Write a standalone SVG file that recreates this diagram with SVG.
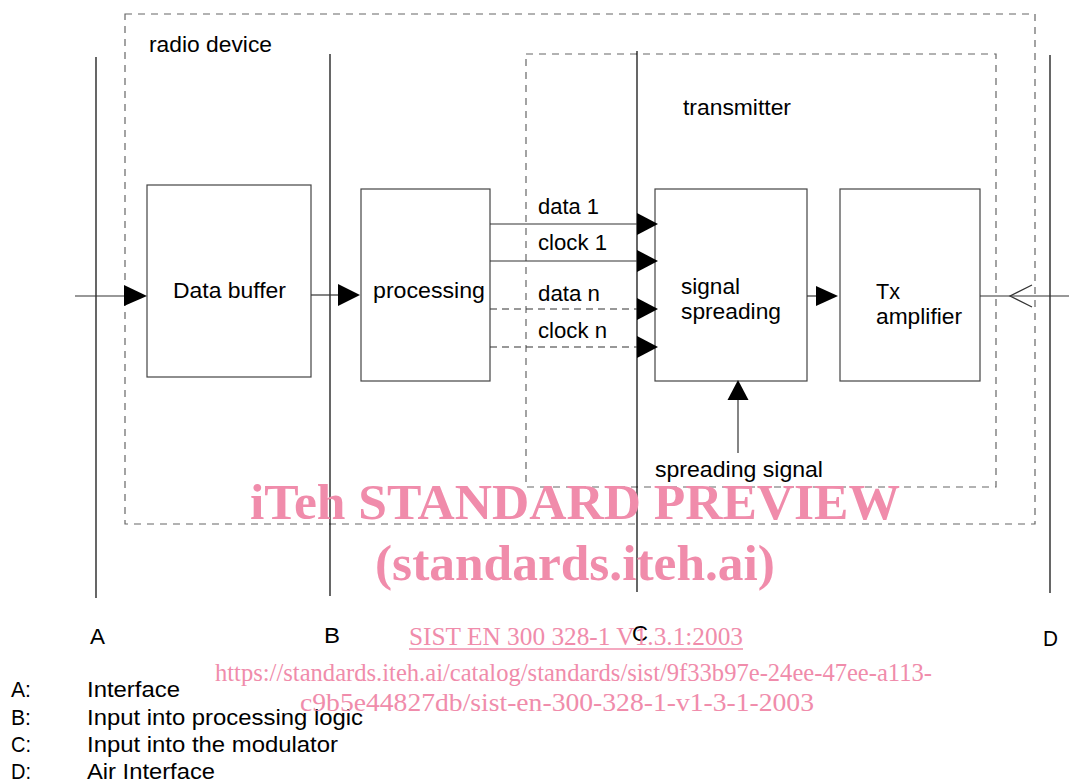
<svg xmlns="http://www.w3.org/2000/svg" width="1069" height="781" viewBox="0 0 1069 781">
<style>
.lbl{font-family:"Liberation Sans",Arial,sans-serif;font-size:22px;fill:#000}
.box{fill:#fff;stroke:#444;stroke-width:1.2}
.ref{stroke:#000;stroke-width:1.2;fill:none}
.dash{fill:none;stroke:#666;stroke-width:1.2;stroke-dasharray:7,6}
.ln{stroke:#333;stroke-width:1.2;fill:none}
.lnd{stroke:#333;stroke-width:1.2;fill:none;stroke-dasharray:7,5}
.head{fill:#000}
.wm{font-family:"Liberation Serif","Times New Roman",serif;fill:#f08cab}
.wmb{font-weight:bold;font-size:51px}
.wms{font-size:25px}
</style>
<rect width="1069" height="781" fill="#fff"/>
<g id="radio-device">
<rect class="dash" x="125" y="14" width="910" height="510"/>
<text class="lbl" x="149" y="52" textLength="123" lengthAdjust="spacingAndGlyphs">radio device</text>
</g>
<g id="transmitter">
<rect class="dash" x="526" y="54" width="470" height="433"/>
<text class="lbl" x="683" y="115" textLength="108" lengthAdjust="spacingAndGlyphs">transmitter</text>
</g>
<g id="ref-lines">
<line class="ref" x1="96" y1="57" x2="96" y2="598"/>
<line class="ref" x1="330" y1="54" x2="330" y2="596"/>
<line class="ref" x1="637" y1="51" x2="637" y2="592"/>
<line class="ref" x1="1050" y1="55" x2="1050" y2="593"/>
<text class="lbl" x="90" y="644" textLength="15" lengthAdjust="spacingAndGlyphs">A</text>
<text class="lbl" x="324" y="643" textLength="16" lengthAdjust="spacingAndGlyphs">B</text>
<text class="lbl" x="632" y="641" textLength="16" lengthAdjust="spacingAndGlyphs">C</text>
<text class="lbl" x="1043" y="646" textLength="15" lengthAdjust="spacingAndGlyphs">D</text>
</g>
<g id="data-buffer">
<rect class="box" x="147" y="185" width="164" height="192"/>
<text class="lbl" x="173" y="298" textLength="113" lengthAdjust="spacingAndGlyphs">Data buffer</text>
</g>
<g id="processing">
<rect class="box" x="361" y="189" width="129" height="192"/>
<text class="lbl" x="373" y="298" textLength="112" lengthAdjust="spacingAndGlyphs">processing</text>
</g>
<g id="signal-spreading">
<rect class="box" x="655" y="189" width="152" height="192"/>
<text class="lbl" x="681" y="294" textLength="59" lengthAdjust="spacingAndGlyphs">signal</text>
<text class="lbl" x="681" y="319" textLength="100" lengthAdjust="spacingAndGlyphs">spreading</text>
</g>
<g id="tx-amplifier">
<rect class="box" x="840" y="189" width="140" height="192"/>
<text class="lbl" x="876" y="299" textLength="24" lengthAdjust="spacingAndGlyphs">Tx</text>
<text class="lbl" x="876" y="324" textLength="86" lengthAdjust="spacingAndGlyphs">amplifier</text>
</g>
<g id="connectors">
<line class="ln" x1="75" y1="296" x2="126" y2="296"/>
<polygon class="head" points="124,285 147,296 124,306"/>
<line class="ln" x1="311" y1="295" x2="339" y2="295"/>
<polygon class="head" points="338,284 360,295 338,306"/>
<line class="ln" x1="490" y1="224" x2="638" y2="224"/>
<polygon class="head" points="637,213 658,224 637,235"/>
<line class="ln" x1="490" y1="261" x2="638" y2="261"/>
<polygon class="head" points="637,250 658,261 637,272"/>
<line class="lnd" x1="490" y1="309" x2="638" y2="309"/>
<polygon class="head" points="637,298 658,309 637,320"/>
<line class="lnd" x1="490" y1="347" x2="638" y2="347"/>
<polygon class="head" points="637,336 658,347 637,358"/>
<line class="ln" x1="807" y1="296" x2="817" y2="296"/>
<polygon class="head" points="816,286 838,296 816,306"/>
<line class="ln" x1="980" y1="296" x2="1069" y2="296"/>
<polyline class="ln" points="1032,285 1010,296 1032,307"/>
<line class="ln" x1="738" y1="453" x2="738" y2="399"/>
<polygon class="head" points="727.5,400 738,380 748.5,400"/>
<text class="lbl" x="538" y="214" textLength="61" lengthAdjust="spacingAndGlyphs">data 1</text>
<text class="lbl" x="538" y="250" textLength="69" lengthAdjust="spacingAndGlyphs">clock 1</text>
<text class="lbl" x="538" y="301" textLength="62" lengthAdjust="spacingAndGlyphs">data n</text>
<text class="lbl" x="538" y="338" textLength="69" lengthAdjust="spacingAndGlyphs">clock n</text>
<text class="lbl" x="655" y="477" textLength="168" lengthAdjust="spacingAndGlyphs">spreading signal</text>
</g>
<g id="legend">
<text class="lbl" x="11" y="697" textLength="20" lengthAdjust="spacingAndGlyphs">A:</text>
<text class="lbl" x="87" y="697" textLength="93" lengthAdjust="spacingAndGlyphs">Interface</text>
<text class="lbl" x="11" y="725" textLength="20" lengthAdjust="spacingAndGlyphs">B:</text>
<text class="lbl" x="87" y="725" textLength="276" lengthAdjust="spacingAndGlyphs">Input into processing logic</text>
<text class="lbl" x="11" y="752" textLength="20" lengthAdjust="spacingAndGlyphs">C:</text>
<text class="lbl" x="87" y="752" textLength="251" lengthAdjust="spacingAndGlyphs">Input into the modulator</text>
<text class="lbl" x="11" y="779" textLength="20" lengthAdjust="spacingAndGlyphs">D:</text>
<text class="lbl" x="87" y="779" textLength="128" lengthAdjust="spacingAndGlyphs">Air Interface</text>
</g>
<g id="watermark">
<text class="wm wmb" x="250" y="519" textLength="650" lengthAdjust="spacingAndGlyphs">iTeh STANDARD PREVIEW</text>
<text class="wm wmb" x="375" y="580" textLength="400" lengthAdjust="spacingAndGlyphs">(standards.iteh.ai)</text>
<text class="wm wms" x="409" y="645" textLength="334" lengthAdjust="spacingAndGlyphs">SIST EN 300 328-1 V1.3.1:2003</text>
<line x1="409" y1="649" x2="743" y2="649" stroke="#f08cab" stroke-width="1.3"/>
<text class="wm wms" x="215" y="681" textLength="717" lengthAdjust="spacingAndGlyphs">https://standards.iteh.ai/catalog/standards/sist/9f33b97e-24ee-47ee-a113-</text>
<text class="wm wms" x="300" y="711" textLength="514" lengthAdjust="spacingAndGlyphs">c9b5e44827db/sist-en-300-328-1-v1-3-1-2003</text>
</g>
</svg>
